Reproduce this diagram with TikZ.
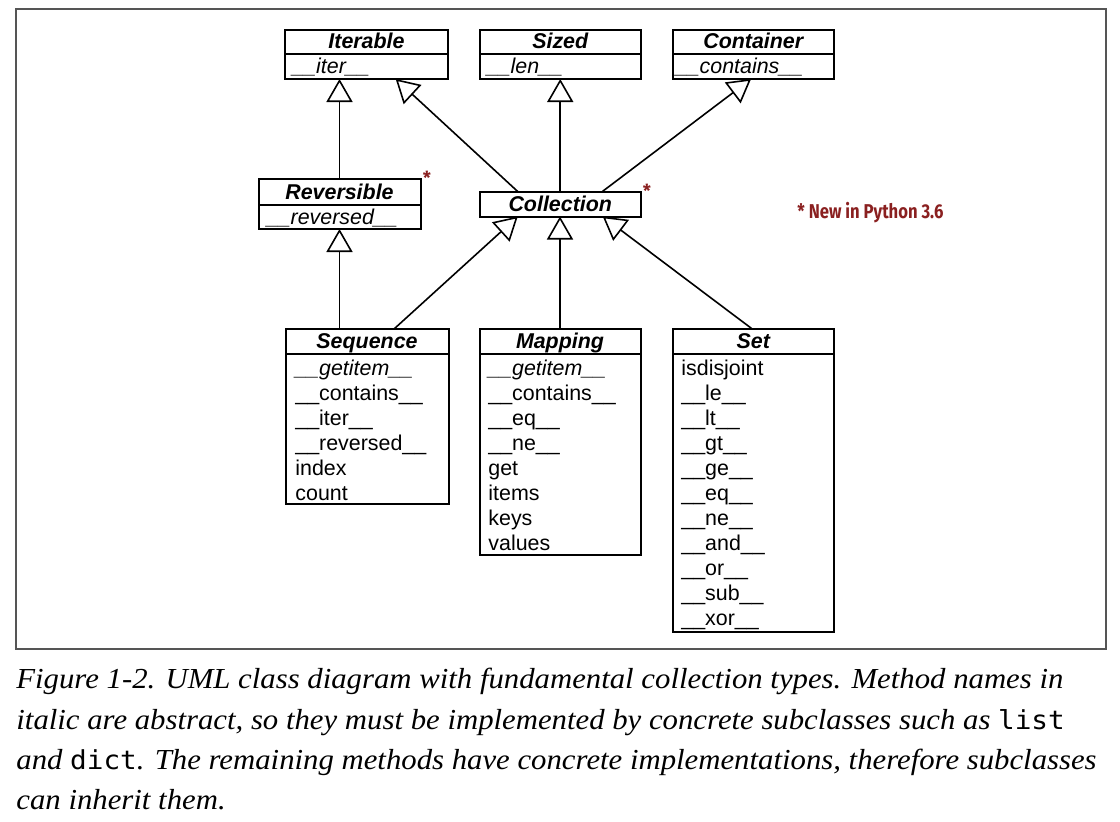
\documentclass[tikz,border=0pt]{standalone}
\usepackage{fontspec}
\setmainfont{Liberation Sans}
\newfontfamily\capfont{Liberation Serif}
\newfontfamily\capmono[Scale=0.9]{DejaVu Sans Mono}
\newfontfamily\notefont{Fira Sans}
\usetikzlibrary{arrows.meta}
\definecolor{notered}{RGB}{138,32,32}
\definecolor{framegray}{RGB}{85,85,85}
\newlength\capw
\newcommand\umlsize{\fontsize{10.7pt}{12.8pt}\selectfont}
\newcommand\capsize{\fontsize{14.5pt}{17pt}\selectfont}
\begin{document}
\settowidth\capw{\capfont\capsize\itshape Figure 1-2. UML class diagram with fundamental collection types. Method names in}%
\pgfmathsetmacro\capsx{523.5/\capw}%
\begin{tikzpicture}[x=0.5pt,y=-0.5pt,
  box/.style={draw, line width=1pt, anchor=north west, inner sep=0pt, outer sep=0pt},
  divider/.style={line width=1pt},
  ttl/.style={font=\umlsize\bfseries\itshape, anchor=base, inner sep=0pt},
  mth/.style={font=\umlsize, anchor=base west, inner sep=0pt},
  gen/.style={line width=0.8pt, -{Triangle[length=11.5pt, width=13pt, fill=white, line width=0.8pt]}},
  ast/.style={font=\notefont\bfseries\fontsize{9pt}{9pt}\selectfont, text=notered, inner sep=0pt},
  capline/.style={anchor=base west, inner sep=0pt, font=\capfont\capsize\itshape},
]
\useasboundingbox (0,0) rectangle (1120,821);
\node[box, draw=framegray, line width=0.8pt, minimum width=545pt, minimum height=320pt] (frame) at (16,9) {};

% boxes
\node[box, minimum width=81.5pt, minimum height=24.75pt] (iter) at (285,29.5) {};
\node[box, minimum width=80.75pt, minimum height=24.75pt] (sized) at (479.5,29.5) {};
\node[box, minimum width=80.75pt, minimum height=24.75pt] (cont) at (672.5,29.5) {};
\node[box, minimum width=81pt, minimum height=25.25pt] (rev) at (258.5,178.5) {};
\node[box, minimum width=80.75pt, minimum height=12.25pt] (coll) at (479.5,192) {};
\node[box, minimum width=81.5pt, minimum height=87.5pt] (seq) at (285.5,329) {};
\node[box, minimum width=80.5pt, minimum height=113pt] (map) at (479.5,329) {};
\node[box, minimum width=80.75pt, minimum height=151.5pt] (set) at (672.5,329) {};

% dividers
\foreach \b in {iter,sized,cont}
  \draw[divider] ([yshift=-12pt]\b.north west) -- ([yshift=-12pt]\b.north east);
\draw[divider] ([yshift=-13pt]rev.north west) -- ([yshift=-13pt]rev.north east);
\foreach \b in {seq,map,set}
  \draw[divider] ([yshift=-12.25pt]\b.north west) -- ([yshift=-12.25pt]\b.north east);

% titles
\node[ttl] (iterT) at (366.5,48.5) {Iterable};
\node[ttl] (sizedT) at (560.25,48.5) {Sized};
\node[ttl] (contT) at (753.25,48.5) {Container};
\node[ttl] (revT) at (339.5,199.5) {Reversible};
\node[ttl] (collT) at (560.25,211) {Collection};
\node[ttl] (seqT) at (367,348.5) {Sequence};
\node[ttl] (mapT) at (560,348.5) {Mapping};
\node[ttl] (setT) at (753.25,348.5) {Set};

% abstract methods of top boxes
\node[mth, font=\umlsize\itshape] (iterM) at (292,73.5) {\_\_iter\_\_};
\node[mth, font=\umlsize\itshape] (sizedM) at (486.5,73.5) {\_\_len\_\_};
\node[mth, font=\umlsize\itshape] (contM) at (675.5,73.5) {\_\_contains\_\_};
\node[mth, font=\umlsize\itshape] (revM) at (266.5,224.5) {\_\_reversed\_\_};

% rows
\foreach \t [count=\i from 0] in {{\itshape\_\_getitem\_\_},\_\_contains\_\_,\_\_iter\_\_,\_\_reversed\_\_,index,count}
  \node[mth] (seqR\i) at (295,375+25*\i) {\t};
\foreach \t [count=\i from 0] in {{\itshape\_\_getitem\_\_},\_\_contains\_\_,\_\_eq\_\_,\_\_ne\_\_,get,items,keys,values}
  \node[mth] (mapR\i) at (488,375+25*\i) {\t};
\foreach \t [count=\i from 0] in {isdisjoint,\_\_le\_\_,\_\_lt\_\_,\_\_gt\_\_,\_\_ge\_\_,\_\_eq\_\_,\_\_ne\_\_,\_\_and\_\_,\_\_or\_\_,\_\_sub\_\_,\_\_xor\_\_}
  \node[mth] (setR\i) at (681,375+25*\i) {\t};

% generalizations
\draw[gen] (rev.north) -- (rev.north |- iter.south);
\draw[gen] ([xshift=-21pt]coll.north) -- ([xshift=14.6pt]iter.south);
\draw[gen] (coll.north) -- (sized.south);
\draw[gen] ([xshift=20.75pt]coll.north) -- ([xshift=-1.1pt]cont.south);
\draw[gen] (rev.south |- seq.north) -- (rev.south);
\draw[gen] ([xshift=13.5pt]seq.north) -- ([xshift=-21.25pt]coll.south);
\draw[gen] (map.north) -- (map.north |- coll.south);
\draw[gen] ([xshift=-0.5pt]set.north) -- ([xshift=21.25pt]coll.south);

% notes
\node[ast] (astRev) at (427,177.5) {*};
\node[ast] (astColl) at (647,191) {*};
\node[anchor=base west, inner sep=0pt, text=notered, font=\notefont\bfseries\fontsize{10pt}{12pt}\selectfont] (note) at (797,218)
  {\resizebox{73pt}{\height}{* New in Python 3.6}};

% caption
\node[capline] (cap1) at (16,688) {\scalebox{\capsx}[1]{Figure 1-2. UML class diagram with fundamental collection types. Method names in}};
\node[capline] (cap2) at (16,729) {\scalebox{\capsx}[1]{italic are abstract, so they must be implemented by concrete subclasses such as {\upshape\capmono list}}};
\node[capline] (cap3) at (16,769) {\scalebox{\capsx}[1]{and {\upshape\capmono dict}. The remaining methods have concrete implementations, therefore subclasses}};
\node[capline] (cap4) at (16,809) {\scalebox{\capsx}[1]{can inherit them.}};
\end{tikzpicture}
\end{document}
